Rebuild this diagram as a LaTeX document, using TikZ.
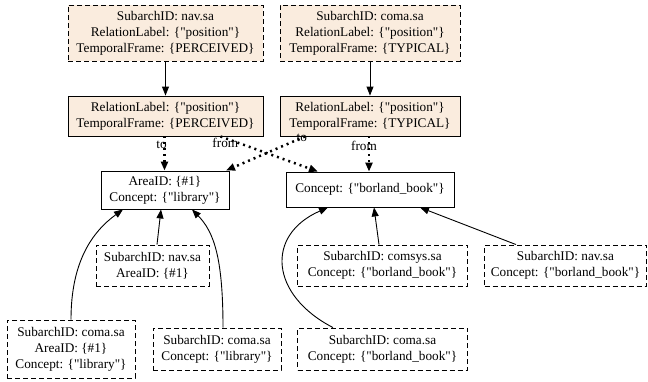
\documentclass[tikz,border=0pt]{standalone}
\usepackage{fontspec}
\newfontfamily\libser{Liberation Serif}
\usetikzlibrary{arrows.meta}
\definecolor{fillc}{RGB}{250,236,222}
\tikzset{
  every node/.style={font=\libser\fontsize{13.25}{16}\selectfont},
  box/.style={draw=black, line width=0.9pt, align=center, inner sep=0pt, rectangle},
  dbox/.style={box, dash pattern=on 5pt off 3pt},
  filled/.style={fill=fillc},
  arr/.style={line width=0.9pt, -{Triangle[length=9pt,width=7pt]}},
  dotarr/.style={line width=2.5pt, dash pattern=on 2pt off 4pt, -{Triangle[length=9pt,width=7pt]}},
  lbl/.style={inner sep=0pt}
}
\begin{document}
\begin{tikzpicture}[x=1pt,y=-1pt]
\path[use as bounding box, fill=white] (0,0) rectangle (648,381);

\node[dbox, filled, minimum width=195pt, minimum height=56pt] (t1) at (165.5,33)
  {SubarchID: nav.sa\\RelationLabel: \{"position"\}\\TemporalFrame: \{PERCEIVED\}};
\node[dbox, filled, minimum width=180pt, minimum height=56pt] (t2) at (370,33)
  {SubarchID: coma.sa\\RelationLabel: \{"position"\}\\TemporalFrame: \{TYPICAL\}};
\node[box, filled, minimum width=195pt, minimum height=40pt] (r1) at (165.5,116)
  {RelationLabel: \{"position"\}\\TemporalFrame: \{PERCEIVED\}};
\node[box, filled, minimum width=180pt, minimum height=40pt] (r2) at (370,116)
  {RelationLabel: \{"position"\}\\TemporalFrame: \{TYPICAL\}};
\node[box, minimum width=128pt, minimum height=38pt] (a) at (165,190)
  {AreaID: \{\#1\}\\Concept: \{"library"\}};
\node[box, minimum width=168pt, minimum height=35pt] (b) at (370,189.5)
  {Concept: \{"borland\_book"\}};
\node[dbox, minimum width=113pt, minimum height=41pt] (n1) at (152.5,265.5)
  {SubarchID: nav.sa\\AreaID: \{\#1\}};
\node[dbox, minimum width=128pt, minimum height=58pt] (n2) at (71,349)
  {SubarchID: coma.sa\\AreaID: \{\#1\}\\Concept: \{"library"\}};
\node[dbox, minimum width=128pt, minimum height=42pt] (n3) at (217,349)
  {SubarchID: coma.sa\\Concept: \{"library"\}};
\node[dbox, minimum width=170pt, minimum height=41pt] (n4) at (382.5,265.5)
  {SubarchID: comsys.sa\\Concept: \{"borland\_book"\}};
\node[dbox, minimum width=162pt, minimum height=41pt] (n5) at (565.5,265.5)
  {SubarchID: nav.sa\\Concept: \{"borland\_book"\}};
\node[dbox, minimum width=170pt, minimum height=42pt] (n6) at (382.5,349)
  {SubarchID: coma.sa\\Concept: \{"borland\_book"\}};

\draw[arr] (t1.south) -- (r1.north);
\draw[arr] (t2.south) -- (r2.north);

\draw[dotarr] ([xshift=-1pt]r1.south) -- node[lbl, pos=0.26, xshift=-3pt] {to} ([xshift=-0.5pt]a.north);
\draw[dotarr] ([xshift=-1pt]r2.south) -- node[lbl, pos=0.26, xshift=-5pt] {from} ([xshift=-1pt]b.north);
\draw[dotarr] ([xshift=55pt]r1.south) -- node[lbl, pos=0.05, yshift=-5pt] {from} ([xshift=-52pt]b.north);
\draw[dotarr] ([xshift=-65pt]r2.south) -- node[lbl, pos=0.04, yshift=0pt] {to} ([xshift=61pt]a.north);

\draw[arr] ([xshift=4.5pt]n1.north) -- ([xshift=-4pt]a.south);
\draw[arr] (n2.north) .. controls (71,262) and (92,232) .. ([xshift=-42pt]a.south);
\draw[arr] ([xshift=6pt]n3.north) .. controls (223,258) and (214,232) .. ([xshift=27pt]a.south);
\draw[arr] ([xshift=-3.5pt]n4.north) -- ([xshift=4pt]b.south);
\draw[arr] ([xshift=-49.5pt]n5.north) -- ([xshift=50pt]b.south);
\draw[arr] ([xshift=-49.5pt]n6.north) .. controls (270,295) and (265,235) .. ([xshift=-42pt]b.south);
\end{tikzpicture}
\end{document}
